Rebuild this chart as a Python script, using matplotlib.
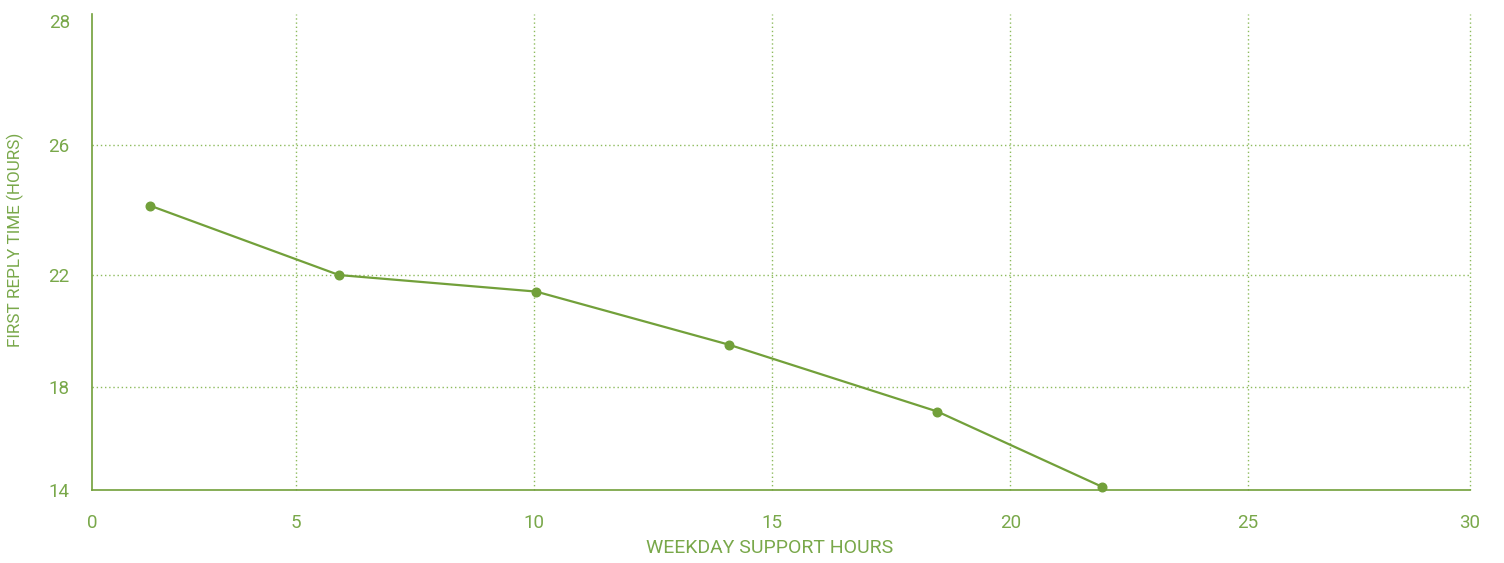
import matplotlib
matplotlib.use("Agg")
import matplotlib.pyplot as plt
import numpy as np

# Data
support_hours = [1.93, 5.90, 10.04, 14.09, 18.47, 21.93]
first_reply_hours = [24.2, 22.0, 21.45, 19.6, 17.05, 13.75]

# Axis domain and ticks
x_domain = (0.71, 29.66)
y_domain = (13.58, 29.58)
x_inner_ticks = [5, 10, 15, 20, 25]
x_tick_labels = ["0", "5", "10", "15", "20", "25", "30"]
y_inner_ticks = [18, 22, 26]
y_tick_labels = ["14", "18", "22", "26", "28"]

LINE = "#72a03a"
TEXT = "#79a84a"
GRID = "#8dbb5c"
POW = 1.8

plt.rcParams["font.family"] = ["Roboto", "DejaVu Sans"]

fig = plt.figure(figsize=(15.04, 5.63), dpi=100)
ax = fig.add_axes([92/1504, 1-490.3/563, (1470-92)/1504, (490.3-14)/563])

ax.set_yscale("function", functions=(lambda v: np.sign(v)*np.abs(v)**POW,
                                     lambda v: np.sign(v)*np.abs(v)**(1/POW)))
ax.set_xlim(*x_domain)
ax.set_ylim(*y_domain)

ax.plot(support_hours, first_reply_hours, color=LINE, lw=1.6, marker="o",
        markersize=6.2, markerfacecolor=LINE, markeredgecolor=LINE, zorder=3,
        clip_on=False)

xt = [x_domain[0]] + x_inner_ticks + [x_domain[1]]
yt = [y_domain[0]] + y_inner_ticks + [y_domain[1]]
ax.set_xticks(xt)
ax.set_xticklabels(x_tick_labels)
ax.set_yticks(yt)
ax.set_yticklabels(y_tick_labels)
ax.tick_params(length=0, labelsize=13.5, labelcolor=TEXT)
ax.tick_params(axis="x", pad=17)
ax.tick_params(axis="y", pad=16)

for v in x_inner_ticks + [x_domain[1]]:
    ax.axvline(v, color=GRID, lw=1.0, linestyle=(0, (1, 2)), zorder=1, clip_on=False)
for v in y_inner_ticks:
    ax.axhline(v, color=GRID, lw=1.0, linestyle=(0, (1, 2)), zorder=1)

for s in ["top", "right"]:
    ax.spines[s].set_visible(False)
for s in ["left", "bottom"]:
    ax.spines[s].set_color(LINE)
    ax.spines[s].set_linewidth(1.2)

# top y label sits slightly below the axis end
labs = ax.get_yticklabels()
labs[-1].set_va("top")

ax.set_xlabel("WEEKDAY SUPPORT HOURS", color=TEXT, fontsize=14)
ax.set_ylabel("FIRST REPLY TIME (HOURS)", color=TEXT, fontsize=12.3)
ax.yaxis.set_label_coords(-(92-15.5)/1378, (490.3-239.5)/476.3)
ax.xaxis.set_label_coords((770-92)/1378, -(548-490.3)/476.3)
ax.xaxis.label.set_va("center")
ax.yaxis.label.set_va("center")

fig.savefig("out.png", dpi=100, facecolor="white")
